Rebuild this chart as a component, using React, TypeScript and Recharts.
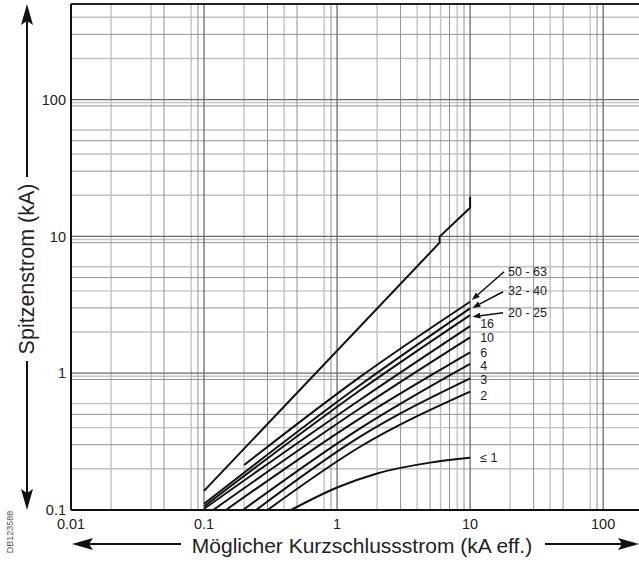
import React from "react";
import {
  LineChart,
  Line,
  XAxis,
  YAxis,
  CartesianGrid,
  ReferenceLine,
  ReferenceDot,
} from "recharts";

// axis ticks
const X_TICKS = [0.01, 0.1, 1, 10, 100];
const X_TICK_LABELS = ["0.01", "0.1", "1", "10", "100"];
const Y_TICKS = [0.1, 1, 10, 100];
const Y_TICK_LABELS = ["0.1", "1", "10", "100"];

// log paper grid
const X_DECADES = [0.01, 0.1, 1, 10, 100];
const Y_DECADES = [0.1, 1, 10, 100];
const ODD_STEPS = [3, 5, 7, 9];
const EVEN_STEPS = [2, 4, 6, 8];
const Y_HALF_STEPS = [7.5, 8.5, 9.5];

// curves: [prospective current kA eff., peak current kA]
const PEAK_UNLIMITED = [[0.1, 0.138], [5.9, 9.0], [5.9, 9.96], [10, 16.2], [10, 19.5]];
const CURVE_50_63 = [[0.2, 0.213], [1.49, 0.94], [10, 3.33]];
const CURVE_32_40 = [[0.1, 0.111], [1.49, 0.82], [10, 2.98]];
const CURVE_20_25 = [[0.1, 0.106], [1.49, 0.75], [10, 2.66]];
const CURVE_16 = [[0.1, 0.102], [1.49, 0.64], [10, 2.21]];
const CURVE_10 = [[0.117, 0.1], [1.49, 0.554], [10, 1.83]];
const CURVE_6 = [[0.146, 0.1], [1.49, 0.468], [10, 1.42]];
const CURVE_4 = [[0.196, 0.1], [1.49, 0.395], [10, 1.17]];
const CURVE_3 = [[0.246, 0.1], [1.49, 0.344], [10, 0.918]];
const CURVE_2 = [[0.3, 0.1], [1.49, 0.29], [10, 0.733]];
const CURVE_LE1 = [[0.451, 0.1], [1, 0.146], [2, 0.185], [5, 0.222], [10, 0.241]];

const CURVES = [
  CURVE_50_63, CURVE_32_40, CURVE_20_25, CURVE_16, CURVE_10,
  CURVE_6, CURVE_4, CURVE_3, CURVE_2, CURVE_LE1,
];

// curve labels and where they sit
const LABELS = ["50 - 63", "32 - 40", "20 - 25", "16", "10", "6", "4", "3", "2", "≤ 1"];
const LABEL_AT = [
  [19.3, 5.54], [19.3, 3.99], [19.3, 2.8], [11.9, 2.29], [11.9, 1.81],
  [11.9, 1.42], [11.9, 1.14], [11.9, 0.896], [11.9, 0.685], [11.9, 0.24],
];
// leader arrows [tip, tail]
const LEADERS = [
  [[10.3, 3.43], [18.0, 5.52]],
  [[10.4, 3.0], [17.7, 3.94]],
  [[10.4, 2.59], [17.7, 2.77]],
];

const X_MAX = 186;
const Y_MAX = 500;

const FONT = "'Liberation Sans', Arial, Helvetica, sans-serif";
const INK = "#111";

const multiples = (decades: number[], steps: number[], max: number) =>
  decades
    .flatMap((d) => steps.map((s) => Number((d * s).toPrecision(4))))
    .filter((v) => v <= max);

const toPoints = (pairs: number[][]) => pairs.map(([x, y]) => ({ x, y }));

function XTick(props: any) {
  const { x, y, payload } = props;
  const i = X_TICKS.indexOf(payload.value);
  return (
    <text x={x} y={y + 19} textAnchor="middle" fontSize={14.5} fill="#222" fontFamily={FONT}>
      {X_TICK_LABELS[i]}
    </text>
  );
}

function YTick(props: any) {
  const { x, y, payload } = props;
  const i = Y_TICKS.indexOf(payload.value);
  return (
    <text x={x - 5} y={y} dy="0.36em" textAnchor="end" fontSize={14.5} fill="#222" fontFamily={FONT}>
      {Y_TICK_LABELS[i]}
    </text>
  );
}

function Leader(p: any) {
  const { x1, y1, x2, y2 } = p;
  const a = Math.atan2(y1 - y2, x1 - x2);
  const len = 8;
  const w = 3;
  const bx = x1 - len * Math.cos(a);
  const by = y1 - len * Math.sin(a);
  const px = -Math.sin(a) * w;
  const py = Math.cos(a) * w;
  return (
    <g>
      <line x1={bx} y1={by} x2={x2} y2={y2} stroke={INK} strokeWidth={1.5} />
      <polygon points={`${x1},${y1} ${bx + px},${by + py} ${bx - px},${by - py}`} fill={INK} />
    </g>
  );
}

function AxisTitles() {
  return (
    <svg
      width={639}
      height={564}
      style={{ position: "absolute", left: 0, top: 0, pointerEvents: "none" }}
    >
      {/* y title with arrows */}
      <line x1={27} y1={20} x2={27} y2={177} stroke={INK} strokeWidth={2} />
      <line x1={27} y1={361} x2={27} y2={494} stroke={INK} strokeWidth={2} />
      <path d="M27 4 L33 25 L27 21 L21 25 Z" fill={INK} />
      <path d="M27 510 L33 489 L27 493 L21 489 Z" fill={INK} />
      <text
        x={27}
        y={269}
        transform="rotate(-90 27 269)"
        textAnchor="middle"
        dominantBaseline="central"
        fontSize={21.5}
        fill="#222"
        fontFamily={FONT}
      >
        Spitzenstrom (kA)
      </text>
      {/* x title with arrows */}
      <line x1={88} y1={544} x2={181} y2={544} stroke={INK} strokeWidth={2} />
      <line x1={545} y1={544} x2={623} y2={544} stroke={INK} strokeWidth={2} />
      <path d="M72 544 L93 538 L89 544 L93 550 Z" fill={INK} />
      <path d="M639 544 L618 538 L622 544 L618 550 Z" fill={INK} />
      <text
        x={362}
        y={545}
        textAnchor="middle"
        dominantBaseline="central"
        fontSize={21}
        fill="#222"
        fontFamily={FONT}
      >
        Möglicher Kurzschlussstrom (kA eff.)
      </text>
      <text
        x={10}
        y={532}
        transform="rotate(-90 10 532)"
        textAnchor="middle"
        dominantBaseline="central"
        fontSize={9}
        fill="#555"
        fontFamily={FONT}
      >
        DB123588
      </text>
    </svg>
  );
}

export default function App() {
  const xOdd = multiples(X_DECADES, ODD_STEPS, X_MAX);
  const xEven = multiples(X_DECADES, EVEN_STEPS, X_MAX);
  const yOdd = multiples(Y_DECADES, ODD_STEPS, Y_MAX);
  const yEven = multiples(Y_DECADES, [...EVEN_STEPS, ...Y_HALF_STEPS], Y_MAX);

  return (
    <div style={{ position: "absolute", left: 0, top: 0, width: 639, height: 564, overflow: "hidden", background: "#fff" }}>
      <LineChart width={639} height={564} margin={{ top: 4, right: 0, bottom: 0, left: 0 }}>
        <CartesianGrid
          verticalValues={xEven}
          horizontalValues={yEven}
          stroke="#c2c2c2"
          strokeWidth={1.4}
        />
        <CartesianGrid
          verticalValues={xOdd}
          horizontalValues={yOdd}
          stroke="#929292"
          strokeWidth={1}
        />
        <CartesianGrid
          verticalValues={X_DECADES}
          horizontalValues={Y_DECADES}
          stroke="#6a6a6a"
          strokeWidth={1.3}
        />
        <XAxis
          dataKey="x"
          type="number"
          scale="log"
          domain={[0.01, X_MAX]}
          allowDataOverflow
          ticks={X_TICKS}
          tick={<XTick />}
          tickLine={false}
          tickSize={0}
          tickMargin={0}
          height={54}
          axisLine={{ stroke: INK, strokeWidth: 2 }}
        />
        <YAxis
          dataKey="y"
          type="number"
          scale="log"
          domain={[0.1, Y_MAX]}
          allowDataOverflow
          ticks={Y_TICKS}
          tick={<YTick />}
          tickLine={false}
          tickSize={0}
          tickMargin={0}
          width={71}
          axisLine={{ stroke: INK, strokeWidth: 2 }}
        />
        <ReferenceLine y={Y_MAX} stroke="#222" strokeWidth={2} />
        <Line
          data={toPoints(PEAK_UNLIMITED)}
          dataKey="y"
          type="linear"
          stroke={INK}
          strokeWidth={2}
          dot={false}
          isAnimationActive={false}
        />
        {CURVES.map((c, i) => (
          <Line
            key={LABELS[i]}
            data={toPoints(c)}
            dataKey="y"
            type="monotone"
            stroke={INK}
            strokeWidth={2}
            dot={false}
            isAnimationActive={false}
          />
        ))}
        {LEADERS.map(([tip, tail], i) => (
          <ReferenceLine
            key={"leader" + i}
            segment={[{ x: tip[0], y: tip[1] }, { x: tail[0], y: tail[1] }]}
            shape={Leader}
          />
        ))}
        {LABELS.map((label, i) => (
          <ReferenceDot
            key={"label" + i}
            x={LABEL_AT[i][0]}
            y={LABEL_AT[i][1]}
            shape={(p: any) => (
              <text x={p.cx} y={p.cy} dy="0.36em" fontSize={12.5} fill="#222" fontFamily={FONT}>
                {label}
              </text>
            )}
          />
        ))}
      </LineChart>
      <AxisTitles />
    </div>
  );
}
